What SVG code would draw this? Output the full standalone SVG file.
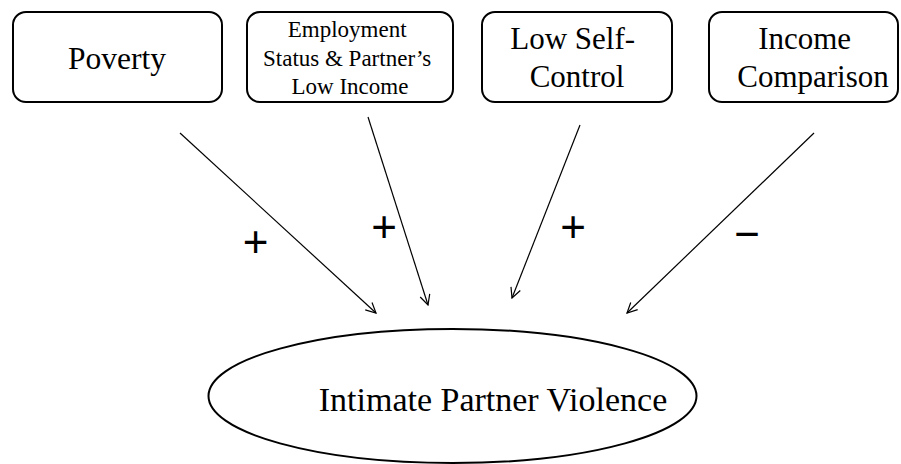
<svg xmlns="http://www.w3.org/2000/svg" width="901" height="464" viewBox="0 0 901 464">
  <style>
    .box { fill: #fff; stroke: #000; stroke-width: 2; }
    .lbl { fill: #000; text-anchor: middle; }
    .sign { font-size: 44px; fill: #000; text-anchor: middle; }
    .arrow { stroke: #000; stroke-width: 1.2; fill: none; marker-end: url(#head); }
  </style>
  <defs>
    <marker id="head" viewBox="0 0 12 12" refX="11" refY="6" markerWidth="12" markerHeight="12" markerUnits="userSpaceOnUse" orient="auto">
      <path d="M1,1 L11,6 L1,11" fill="none" stroke="#000" stroke-width="1.2"/>
    </marker>
  </defs>

  <rect width="901" height="464" fill="#fff"/>

  <g id="poverty">
    <rect class="box" x="13" y="12" width="209" height="90" rx="13"/>
    <text class="lbl" font-family="Liberation Serif, Times New Roman, Times, serif" x="117" y="69" font-size="31.5">Poverty</text>
  </g>

  <g id="employment">
    <rect class="box" x="247" y="12" width="206" height="90" rx="13"/>
    <text class="lbl" font-family="Liberation Serif, Times New Roman, Times, serif" font-size="23">
      <tspan x="350" y="37">Employment</tspan>
      <tspan x="350" y="66">Status &amp; Partner’s</tspan>
      <tspan x="350" y="94">Low Income</tspan>
    </text>
  </g>

  <g id="self-control">
    <rect class="box" x="482" y="12" width="190" height="90" rx="13"/>
    <text class="lbl" font-family="Liberation Serif, Times New Roman, Times, serif" font-size="31">
      <tspan x="576.5" y="49">Low Self-</tspan>
      <tspan x="577" y="87">Control</tspan>
    </text>
  </g>

  <g id="income-comparison">
    <rect class="box" x="709" y="12" width="189" height="90" rx="13"/>
    <text class="lbl" font-family="Liberation Serif, Times New Roman, Times, serif" font-size="31">
      <tspan x="808.5" y="49">Income</tspan>
      <tspan x="813" y="87">Comparison</tspan>
    </text>
  </g>

  <g id="ipv">
    <ellipse class="box" cx="452.5" cy="396" rx="244" ry="67"/>
    <text class="lbl" font-family="Liberation Serif, Times New Roman, Times, serif" x="493" y="411" font-size="34">Intimate Partner Violence</text>
  </g>

  <g id="connectors">
    <line class="arrow" x1="180" y1="133" x2="376" y2="313"/>
    <line class="arrow" x1="368" y1="117" x2="428" y2="305"/>
    <line class="arrow" x1="580" y1="125" x2="512" y2="298"/>
    <line class="arrow" x1="814" y1="133" x2="627" y2="313"/>
    <text class="sign" font-family="Liberation Sans, Arial, sans-serif" x="255.5" y="257">+</text>
    <text class="sign" font-family="Liberation Sans, Arial, sans-serif" x="384" y="241.5">+</text>
    <text class="sign" font-family="Liberation Sans, Arial, sans-serif" x="573" y="241.5">+</text>
    <text class="sign" font-family="Liberation Sans, Arial, sans-serif" x="747" y="248.5">−</text>
  </g>
</svg>
